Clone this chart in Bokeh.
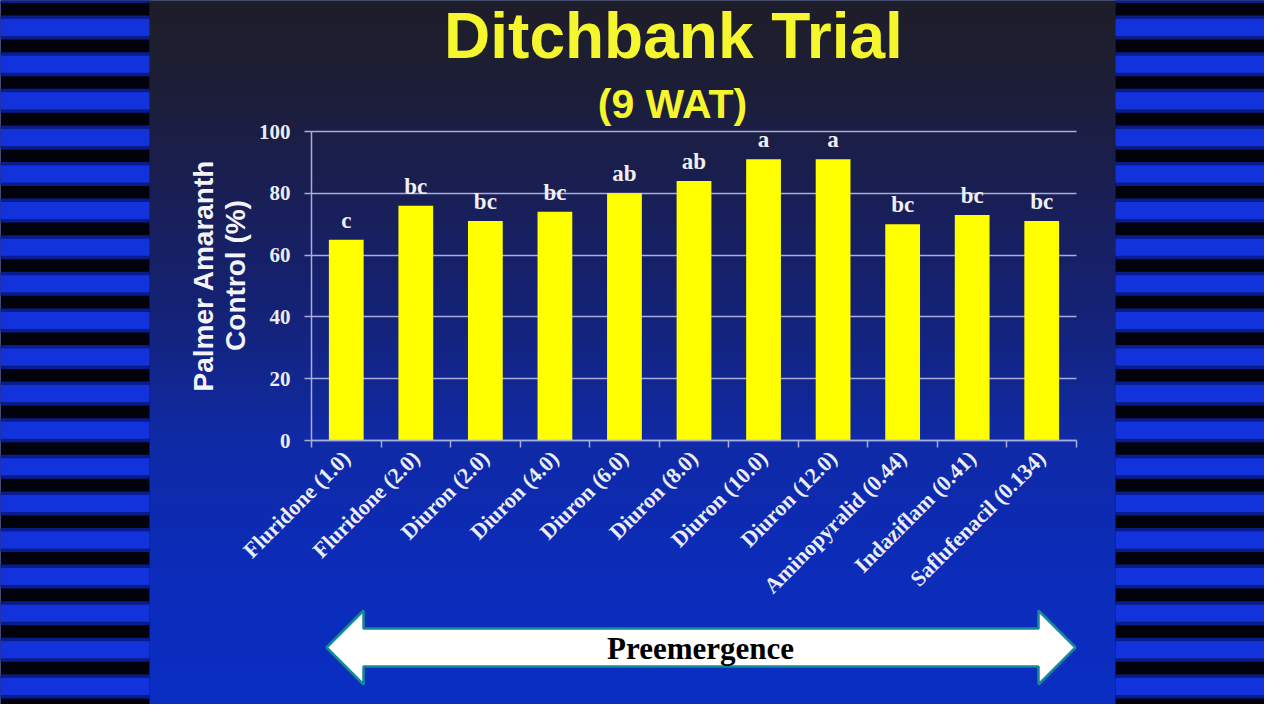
import math
from bokeh.plotting import figure
from bokeh.models import (Range1d, LinearAxis, FixedTicker, Grid,
                          ColumnDataSource, LabelSet, Label)
from bokeh.embed import file_html
from bokeh.resources import INLINE

# ---------------- data ----------------
treatments = ["Fluridone (1.0)", "Fluridone (2.0)", "Diuron (2.0)", "Diuron (4.0)",
              "Diuron (6.0)", "Diuron (8.0)", "Diuron (10.0)", "Diuron (12.0)",
              "Aminopyralid (0.44)", "Indaziflam (0.41)", "Saflufenacil (0.134)"]
control = [65, 76, 71, 74, 80, 84, 91, 91, 70, 73, 71]
letters = ["c", "bc", "bc", "bc", "ab", "ab", "a", "a", "bc", "bc", "bc"]
y_ticks = [0, 20, 40, 60, 80, 100]
title_text = "Ditchbank Trial"
subtitle_text = "(9 WAT)"
ylabel_lines = ["Palmer Amaranth", "Control (%)"]
arrow_text = "Preemergence"

# ---------------- layout (page pixels) ----------------
W, H = 1264, 704
M = 8


def fx(px):
    return px - M


def fy(py):
    return py - M


PL, PR, PT, PB = 319, 1084, 139, 448      # plot area on the page
n = len(treatments)
ppu_y = (PB - PT) / 100.0
ppu_x = (PR - PL) / n
val_range = Range1d(-(H - fy(PB)) / ppu_y, fy(PB) / ppu_y)
idx_range = Range1d(-fx(PL) / ppu_x, (W - fx(PL)) / ppu_x)

p = figure(width=W, height=H, x_range=Range1d(0, W), y_range=Range1d(H, 0),
           output_backend="svg", toolbar_location=None, title=None,
           x_axis_location=None, y_axis_location=None, min_border=0,
           outline_line_color=None, background_fill_color="#0b2cbc",
           border_fill_color="#0b2cbc")
p.grid.visible = False
p.extra_y_ranges = {"val": val_range}
p.extra_x_ranges = {"idx": idx_range}

# ---------------- background ----------------
stops = [(0.00, (30, 29, 40)), (0.10, (29, 30, 50)), (0.25, (26, 30, 78)),
         (0.45, (20, 34, 120)), (0.62, (15, 42, 165)), (0.80, (12, 44, 185)),
         (1.00, (10, 46, 195))]


def grad(t):
    for (t0, c0), (t1, c1) in zip(stops[:-1], stops[1:]):
        if t0 <= t <= t1:
            f = (t - t0) / (t1 - t0)
            return "#%02x%02x%02x" % tuple(int(round(a + (b - a) * f)) for a, b in zip(c0, c1))
    return "#%02x%02x%02x" % stops[-1][1]


NB = 90
gl, gr, gt, gb, gc = [], [], [], [], []
for i in range(NB):
    y0 = 720 * i / NB
    y1 = 720 * (i + 1) / NB
    gl.append(fx(157)); gr.append(fx(1123))
    gt.append(fy(y0)); gb.append(fy(y1) + 0.6)
    gc.append(grad((i + 0.5) / NB))
p.quad(left=gl, right=gr, top=gt, bottom=gb, fill_color=gc, line_color=None, level="image")

# striped side panels
for x0, x1 in [(-10, 157), (1123, 1290)]:
    p.quad(left=[fx(x0)], right=[fx(x1)], top=[fy(-10)], bottom=[fy(730)],
           fill_color="#02020c", line_color=None, level="image")
    cs = [-1.5 + 36.6 * k for k in range(21)]
    p.quad(left=[fx(x0)] * len(cs), right=[fx(x1)] * len(cs),
           top=[fy(c - 12) for c in cs], bottom=[fy(c + 12) for c in cs],
           fill_color="#0a1c8c", line_color=None, level="image")
    p.quad(left=[fx(x0)] * len(cs), right=[fx(x1)] * len(cs),
           top=[fy(c - 8.5) for c in cs], bottom=[fy(c + 8.5) for c in cs],
           fill_color="#1233dc", line_color=None, level="image")

AX = "#a9addb"

# ---------------- grid ----------------
grid = Grid(dimension=1, ticker=FixedTicker(ticks=y_ticks), x_range_name="idx",
            y_range_name="val", grid_line_color=AX, grid_line_width=1.3)
if "cross_bounds" in Grid.properties():
    grid.cross_bounds = (0, n)
p.add_layout(grid, "center")

# ---------------- bars ----------------
src = ColumnDataSource(dict(x=[i + 0.5 for i in range(n)], top=control,
                            letter=letters, name=treatments))
p.vbar(x="x", top="top", bottom=0, width=0.5, source=src, x_range_name="idx",
       y_range_name="val", fill_color="#ffff00", line_color=None)

p.add_layout(LabelSet(x="x", y="top", text="letter", source=src, x_range_name="idx",
                      y_range_name="val", y_offset=12, text_align="center",
                      text_baseline="alphabetic", text_font="Liberation Serif",
                      text_font_style="bold", text_font_size="23px",
                      text_color="#f0f0f4"))

# ---------------- axes ----------------
yaxis = LinearAxis(y_range_name="val", fixed_location=fx(PL),
                   ticker=FixedTicker(ticks=y_ticks), bounds=(0, 100),
                   axis_line_color=AX, axis_line_width=1.5,
                   major_tick_line_color=AX, major_tick_line_width=1.5,
                   major_tick_out=7, major_tick_in=0, minor_tick_out=0, minor_tick_in=0,
                   major_label_standoff=14, major_label_text_font="Liberation Serif",
                   major_label_text_font_style="bold", major_label_text_font_size="21px",
                   major_label_text_color="#ececf4")
p.add_layout(yaxis, "left")

xticks_axis = LinearAxis(x_range_name="idx", fixed_location=fy(PB),
                         ticker=FixedTicker(ticks=list(range(n + 1))), bounds=(0, n),
                         axis_line_color=AX, axis_line_width=1.5,
                         major_tick_line_color=AX, major_tick_line_width=1.5,
                         major_tick_out=7, major_tick_in=0, minor_tick_out=0, minor_tick_in=0,
                         major_label_overrides={i: "" for i in range(n + 1)})
p.add_layout(xticks_axis, "below")

xlab_axis = LinearAxis(x_range_name="idx", fixed_location=fy(PB),
                       ticker=FixedTicker(ticks=[i + 0.5 for i in range(n)]),
                       axis_line_color=None, major_tick_line_color=None,
                       major_tick_out=0, major_tick_in=0, minor_tick_out=0, minor_tick_in=0,
                       major_label_overrides={i + 0.5: t for i, t in enumerate(treatments)},
                       major_label_orientation=math.pi / 4, major_label_standoff=14,
                       major_label_text_font="Liberation Serif",
                       major_label_text_font_style="bold", major_label_text_font_size="22px",
                       major_label_text_color="#ececf4")
p.add_layout(xlab_axis, "below")

# ---------------- texts ----------------
p.add_layout(Label(x=fx(681), y=fy(43), text=title_text, text_align="center",
                   text_baseline="middle", text_font="Liberation Sans",
                   text_font_style="bold", text_font_size="64px", text_color="#f6f62e"))
p.add_layout(Label(x=fx(680), y=fy(111), text=subtitle_text, text_align="center",
                   text_baseline="middle", text_font="Liberation Sans",
                   text_font_style="bold", text_font_size="41px", text_color="#f6f62e"))
for xx, line in zip([211, 243], ylabel_lines):
    p.add_layout(Label(x=fx(xx), y=fy(283), text=line, angle=math.pi / 2,
                       text_align="center", text_baseline="middle",
                       text_font="Liberation Sans", text_font_style="bold",
                       text_font_size="28px", text_color="#f4f4f8"))

# ---------------- arrow ----------------
ax_pts = [(334, 655), (371, 618), (371, 636), (1046, 636), (1046, 618), (1083, 655),
          (1046, 692), (1046, 674), (371, 674), (371, 692)]
p.patch([fx(a) for a, b in ax_pts], [fy(b) for a, b in ax_pts], fill_color="#ffffff",
        line_color="#168a94", line_width=2.5)
p.add_layout(Label(x=fx(708), y=fy(656), text=arrow_text, text_align="center",
                   text_baseline="middle", text_font="Liberation Serif",
                   text_font_style="bold", text_font_size="31px", text_color="#000000"))

open("out.html", "w").write(file_html(p, INLINE, title="Ditchbank Trial"))
